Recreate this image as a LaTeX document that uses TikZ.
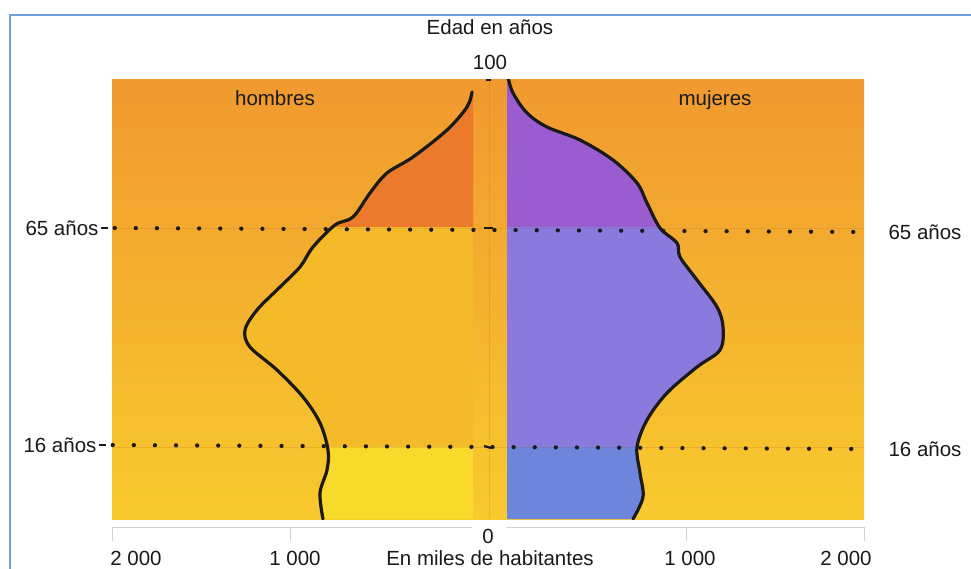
\documentclass[tikz,border=0pt]{standalone}
\usepackage{fontspec}
\setmainfont{Liberation Sans}

\definecolor{bgtop}{HTML}{F0992F}
\definecolor{bgmid}{HTML}{F4B02A}
\definecolor{bgbot}{HTML}{F8CA2E}
\definecolor{menold}{HTML}{EB7A2D}
\definecolor{menadult}{HTML}{F5BA29}
\definecolor{menyoung}{HTML}{F9DA2A}
\definecolor{womold}{HTML}{9B5CCF}
\definecolor{womadult}{HTML}{8A7ADE}
\definecolor{womyoung}{HTML}{6D86DB}
\definecolor{framebl}{HTML}{6FA0DC}
\definecolor{inkblack}{HTML}{1A1A1A}

% outline of the two halves of the pyramid (pixel coordinates)
\newcommand{\menline}{plot[smooth,tension=0.55] coordinates {(472,92) (467,107) (447,130) (413,157) (387,173) (370,193) (353,217) (335,225) (313,247) (300,267) (280,287) (257,310) (245,330) (250,347) (277,370) (303,397) (320,423) (328,450) (327,470) (320,493) (323,519)}}
\newcommand{\womline}{plot[smooth,tension=0.55] coordinates {(508,77) (513,93) (527,113) (547,127) (580,140) (613,160) (637,183) (647,203) (660,228) (677,243) (680,257) (697,280) (717,307) (723,327) (720,350) (697,367) (667,393) (647,420) (637,447) (640,473) (643,497) (633,519)}}

\tikzset{
  label/.style={text=inkblack, inner sep=2pt, font=\fontsize{20.5}{24}\selectfont},
  outline/.style={inkblack, line width=3.2pt, line cap=round, line join=round},
  dotline/.style={inkblack, line width=4.2pt, line cap=round, dash pattern=on 0.1pt off 21pt},
  bandline/.style={orange!70!red!60!black, opacity=0.12, line width=0.8pt},
  axisline/.style={gray!35, line width=1pt},
}

\begin{document}
\begin{tikzpicture}[x=1pt,y=-1pt]
        \useasboundingbox (0,0) rectangle (971,569);
        \fill[white] (0,0) rectangle (971,569);
        \draw[framebl, line width=1.5pt] (10,569) -- (10,15) -- (971,15);

        % background of the chart
        \shade[top color=bgtop, middle color=bgmid, bottom color=bgbot] (112,80) rectangle (864,519);

        % hombres
        \begin{scope}
                \clip (112,80) rectangle (473,228);
                \fill[menold] \menline -- (473,519) -- (473,92) -- cycle;
        \end{scope}
        \begin{scope}
                \clip (112,228) rectangle (473,447);
                \fill[menadult] \menline -- (473,519) -- (473,92) -- cycle;
        \end{scope}
        \begin{scope}
                \clip (112,447) rectangle (473,519);
                \fill[menyoung] \menline -- (473,519) -- (473,92) -- cycle;
        \end{scope}

        % mujeres
        \begin{scope}
                \clip (507,80) rectangle (864,228);
                \fill[womold] \womline -- (507,519) -- (507,77) -- cycle;
        \end{scope}
        \begin{scope}
                \clip (507,228) rectangle (864,447);
                \fill[womadult] \womline -- (507,519) -- (507,77) -- cycle;
        \end{scope}
        \begin{scope}
                \clip (507,447) rectangle (864,519);
                \fill[womyoung] \womline -- (507,519) -- (507,77) -- cycle;
        \end{scope}

        \draw[bandline] (489,80) -- (489,519);
        \draw[bandline] (112,228) -- (864,228);
        \draw[bandline] (112,447) -- (864,447);

        \begin{scope}
                \clip (112,80) rectangle (864,519);
                \draw[outline] \menline;
                \draw[outline] \womline;
        \end{scope}

        % texts
        \node[label] (edad) at (490,27) {Edad en años};
        \node[label] (cien) at (490,62) {100};
        \node[label] (hombres) at (275,98) {hombres};
        \node[label] (mujeres) at (715,100) {mujeres};
        \node[label] (l65) at (62,228) {65 años};
        \node[label] (r65) at (925,232) {65 años};
        \node[label] (l16) at (60,445) {16 años};
        \node[label] (r16) at (925,449) {16 años};

        % age lines
        \draw[inkblack, line width=1.8pt] (l65.east) -- ++(7,0);
        \draw[dotline] ([xshift=14pt]l65.east) -- ([xshift=-24pt]r65.west);
        \draw[inkblack, line width=1.8pt] (l16.east) -- ++(7,0);
        \draw[dotline] ([xshift=14pt]l16.east) -- ([xshift=-24pt]r16.west);
        \draw[inkblack, line width=2.5pt] (486,80) -- (491,80);
        \draw[inkblack, line width=2.5pt] (484,228) -- (493,228);
        \draw[inkblack, line width=2.2pt] (484,446) -- (491,448);

        % axis
        \draw[axisline] (112,527) -- (472,527);
        \draw[axisline] (506,527) -- (864,527);
        \draw[axisline] (112,527) -- (112,541);
        \draw[axisline] (290,527) -- (290,541);
        \draw[axisline] (686,527) -- (686,541);
        \draw[axisline] (864,527) -- (864,541);

        \node[label] (cero) at (488,536) {0};
        \node[label] (m2000) at (136,558) {2 000};
        \node[label] (m1000) at (295,558) {1 000};
        \node[label] (miles) at (490,558) {En miles de habitantes};
        \node[label] (w1000) at (690,558) {1 000};
        \node[label] (w2000) at (846,558) {2 000};
\end{tikzpicture}
\end{document}
